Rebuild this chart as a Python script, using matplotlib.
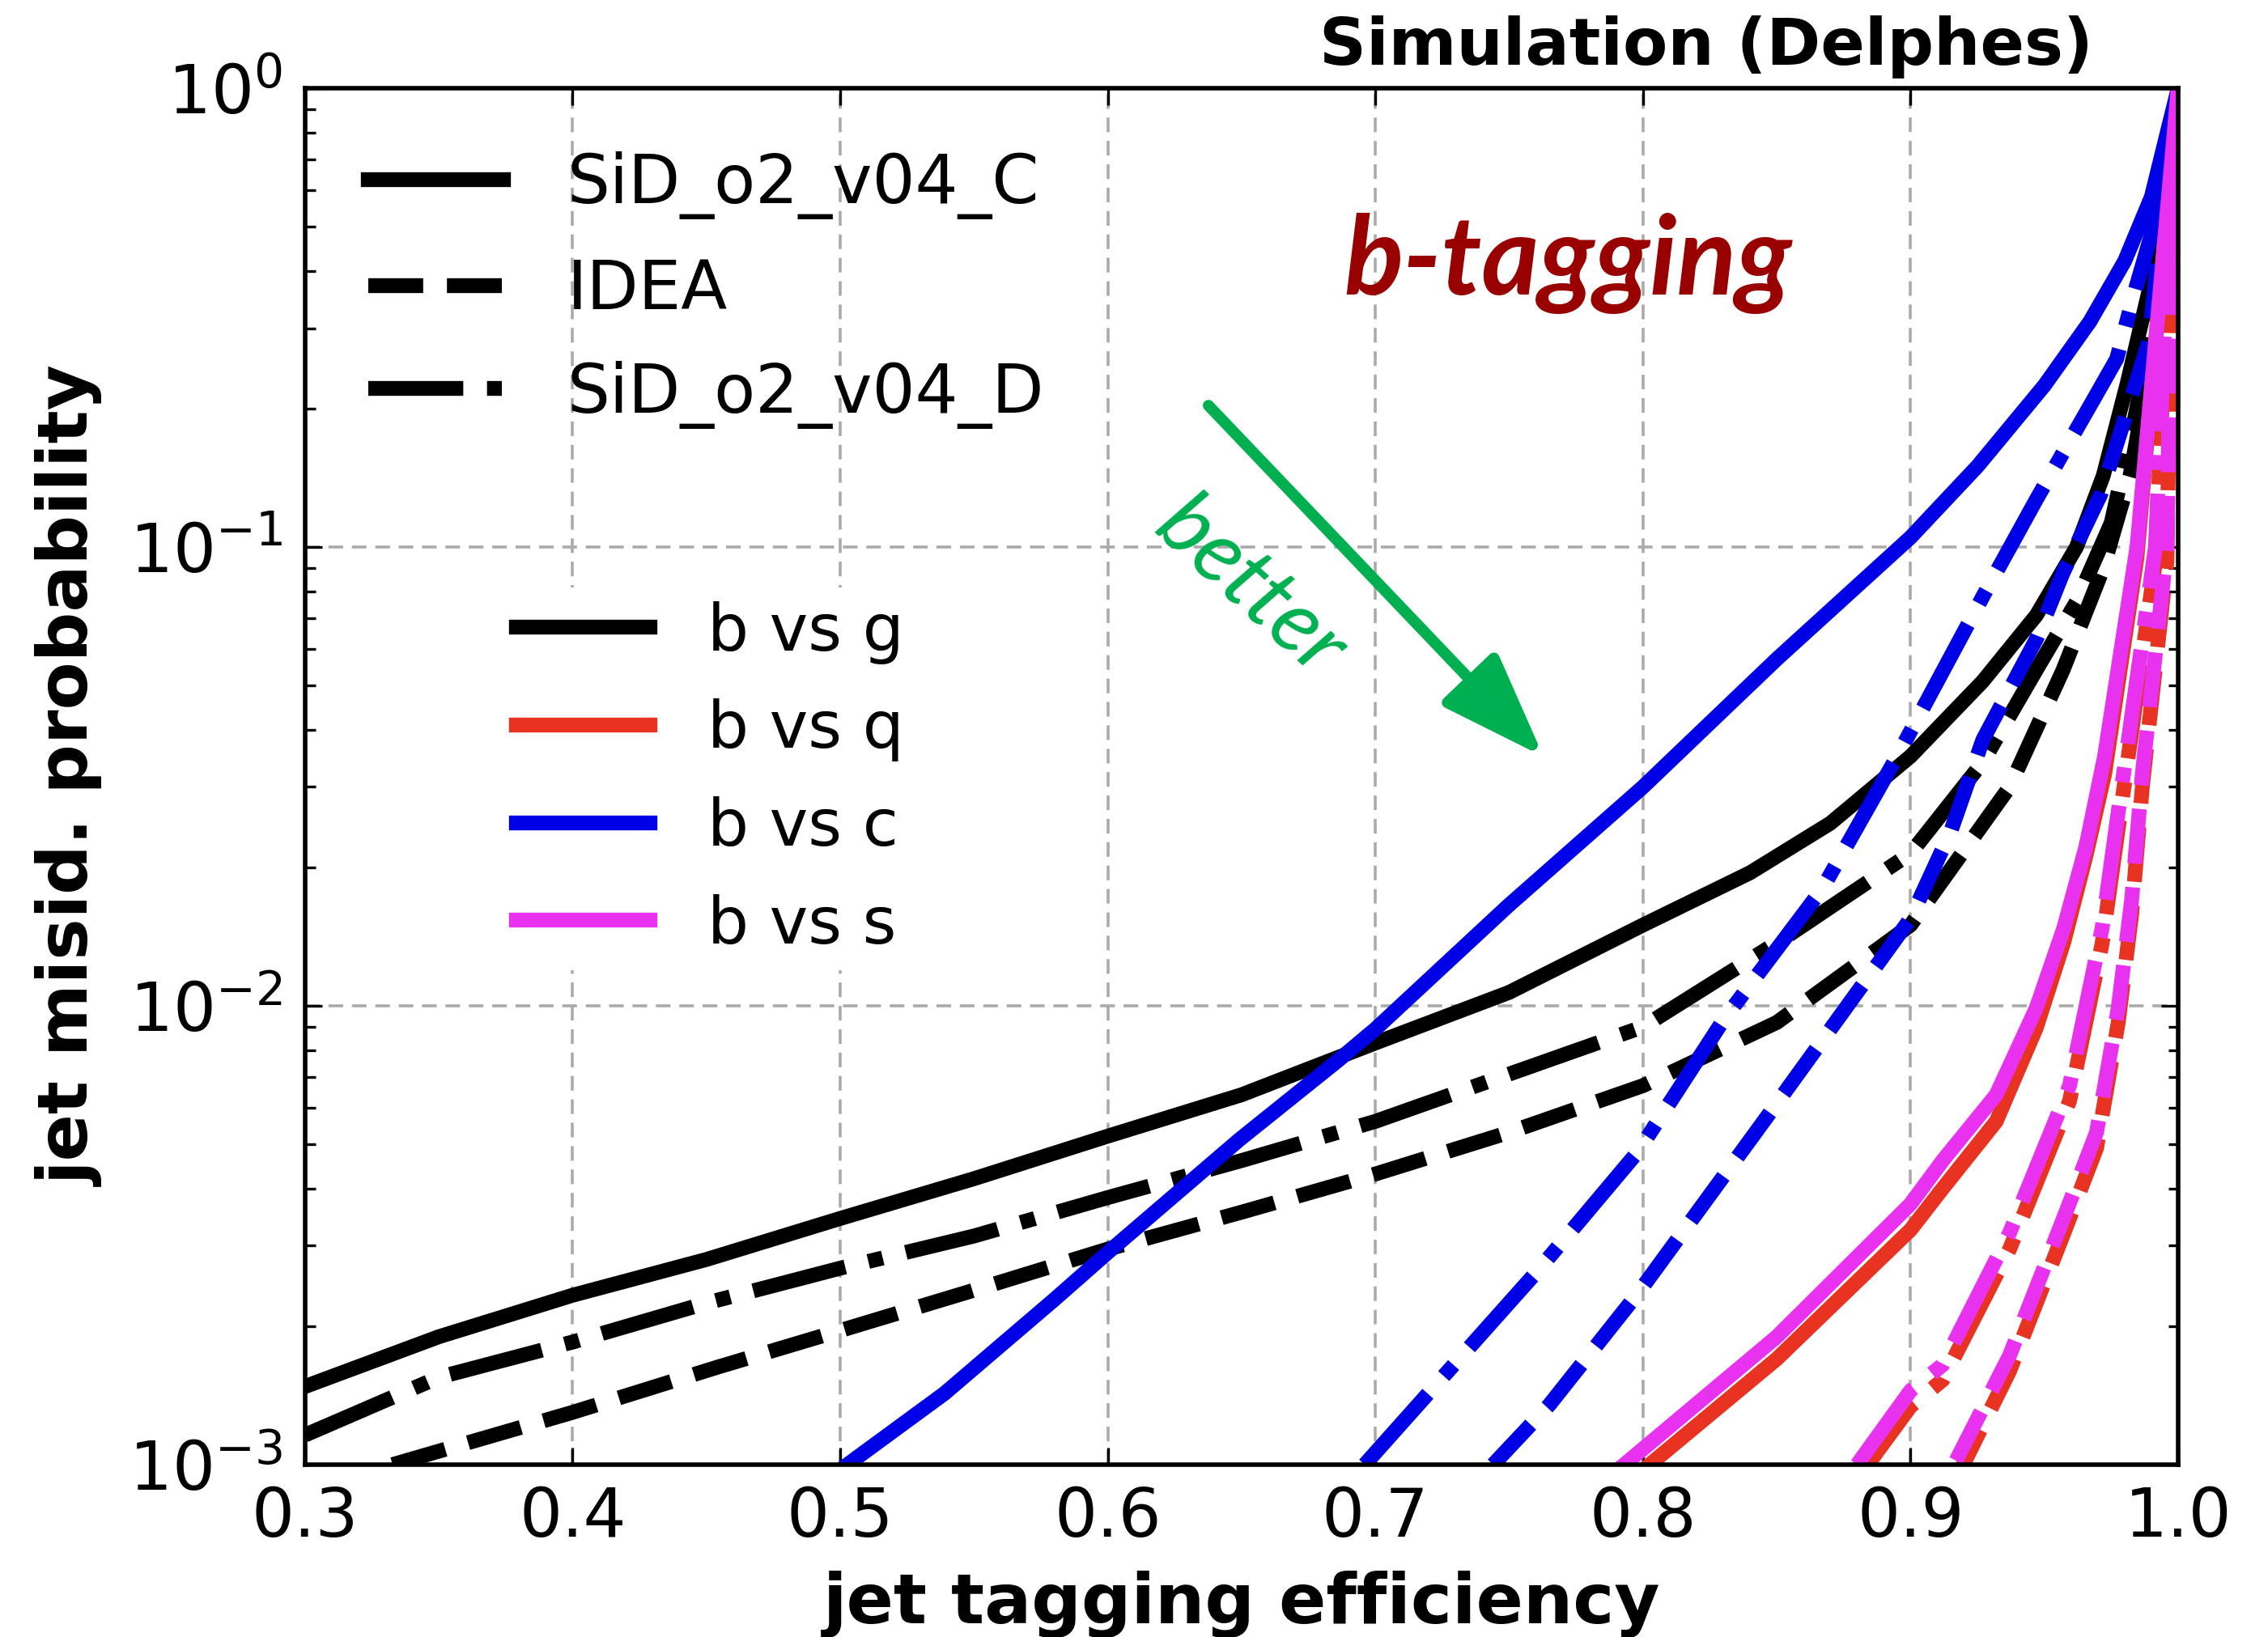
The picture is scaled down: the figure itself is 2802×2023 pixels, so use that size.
import matplotlib.pyplot as plt
from matplotlib.lines import Line2D

# ROC curves: b-jet efficiency vs. misid probability of the background flavour
# b vs g
g_C_eff = [0.30, 0.35, 0.40, 0.45, 0.50, 0.55, 0.60, 0.65, 0.70, 0.75, 0.80, 0.84, 0.87, 0.90,
           0.927, 0.947, 0.962, 0.972, 0.981, 0.989, 0.9935, 1.0]
g_C_mis = [1.48e-3, 1.9e-3, 2.34e-3, 2.8e-3, 3.44e-3, 4.2e-3, 5.2e-3, 6.4e-3, 8.3e-3, 1.07e-2, 1.5e-2,
           1.95e-2, 2.5e-2, 3.5e-2, 5.1e-2, 7.1e-2, 0.10, 0.143, 0.228, 0.36, 0.49, 1.0]
g_I_eff = [0.3327, 0.40, 0.454, 0.50, 0.55, 0.60, 0.65, 0.70, 0.75, 0.80, 0.85, 0.90, 0.937, 0.957,
           0.972, 0.982, 0.9886, 0.9935, 1.0]
g_I_mis = [1.0e-3, 1.30e-3, 1.63e-3, 1.96e-3, 2.4e-3, 2.95e-3, 3.55e-3, 4.3e-3, 5.3e-3, 6.7e-3, 9.2e-3,
           1.5e-2, 3.0e-2, 5.4e-2, 9.0e-2, 0.143, 0.233, 0.41, 1.0]
g_D_eff = [0.30, 0.35, 0.40, 0.45, 0.50, 0.55, 0.60, 0.65, 0.70, 0.75, 0.80, 0.854, 0.90,
           0.927, 0.947, 0.962, 0.975, 0.984, 0.991, 1.0]
g_D_mis = [1.16e-3, 1.55e-3, 1.85e-3, 2.25e-3, 2.68e-3, 3.15e-3, 3.82e-3, 4.6e-3, 5.6e-3, 7.1e-3,
           9.0e-3, 1.42e-2, 2.15e-2, 3.4e-2, 5.4e-2, 7.6e-2, 0.113, 0.194, 0.32, 1.0]

# b vs q
q_C_eff = [0.8025, 0.85, 0.90, 0.912, 0.932, 0.947, 0.9573, 0.9655, 0.9725, 0.9846, 0.992, 1.0]
q_C_mis = [1.0e-3, 1.7e-3, 3.25e-3, 4.0e-3, 5.6e-3, 8.96e-3, 1.38e-2, 2.12e-2, 3.2e-2, 0.095, 0.3, 1.0]
q_I_eff = [0.917, 0.937, 0.9573, 0.9695, 0.9776, 0.9826, 0.9866, 0.9958, 0.997, 1.0]
q_I_mis = [0.93e-3, 1.6e-3, 3.2e-3, 4.9e-3, 9.2e-3, 1.58e-2, 3.0e-2, 0.093, 0.28, 1.0]
q_D_eff = [0.880, 0.90, 0.912, 0.937, 0.9594, 0.9716, 0.977, 0.9915, 0.995, 1.0]
q_D_mis = [0.93e-3, 1.34e-3, 1.53e-3, 2.95e-3, 6.2e-3, 1.37e-2, 2.3e-2, 0.093, 0.28, 1.0]

# b vs c
c_C_eff = [0.5027, 0.539, 0.58, 0.60, 0.649, 0.686, 0.70, 0.7495, 0.80, 0.85, 0.90, 0.925, 0.95,
           0.967, 0.98, 0.99, 1.0]
c_C_mis = [1.0e-3, 1.43e-3, 2.29e-3, 2.9e-3, 5.1e-3, 7.6e-3, 8.9e-3, 1.65e-2, 3.0e-2, 5.7e-2, 0.105,
           0.15, 0.225, 0.31, 0.42, 0.58, 1.0]
c_I_eff = [0.744, 0.765, 0.799, 0.847, 0.90, 0.915, 0.927, 0.947, 0.957, 0.971, 0.98, 0.989, 0.9925, 1.0]
c_I_mis = [1.0e-3, 1.35e-3, 2.4e-3, 5.8e-3, 1.55e-2, 2.4e-2, 3.8e-2, 6.3e-2, 8.8e-2, 0.13, 0.19, 0.28,
           0.43, 1.0]
c_D_eff = [0.696, 0.761, 0.798, 0.830, 0.867, 0.895, 0.927, 0.947, 0.967, 0.977, 0.984, 0.9925, 1.0]
c_D_mis = [1.0e-3, 2.66e-3, 4.8e-3, 9.3e-3, 1.8e-2, 3.5e-2, 7.8e-2, 0.127, 0.203, 0.257, 0.364, 0.54, 1.0]

# b vs s
s_C_eff = [0.793, 0.85, 0.90, 0.912, 0.932, 0.947, 0.9573, 0.9655, 0.9725, 0.9846, 0.992, 1.0]
s_C_mis = [1.0e-3, 1.9e-3, 3.7e-3, 4.6e-3, 6.4e-3, 9.9e-3, 1.48e-2, 2.22e-2, 3.5e-2, 0.1, 0.3, 1.0]
s_I_eff = [0.917, 0.937, 0.9573, 0.9695, 0.9776, 0.9826, 0.9866, 0.9958, 0.997, 1.0]
s_I_mis = [1.02e-3, 1.73e-3, 3.46e-3, 5.3e-3, 9.9e-3, 1.7e-2, 3.2e-2, 0.1, 0.3, 1.0]
s_D_eff = [0.880, 0.90, 0.912, 0.937, 0.9594, 0.9716, 0.977, 0.9915, 0.995, 1.0]
s_D_mis = [1.0e-3, 1.45e-3, 1.65e-3, 3.2e-3, 6.7e-3, 1.48e-2, 2.5e-2, 0.1, 0.3, 1.0]

detectors = ["SiD_o2_v04_C", "IDEA", "SiD_o2_v04_D"]
styles = ["-", "--", "-."]
flavours = ["b vs g", "b vs q", "b vs c", "b vs s"]
colors = ["black", "#e83323", "#0000e6", "#e832f0"]

curves = [
    [(g_C_eff, g_C_mis), (g_I_eff, g_I_mis), (g_D_eff, g_D_mis)],
    [(q_C_eff, q_C_mis), (q_I_eff, q_I_mis), (q_D_eff, q_D_mis)],
    [(c_C_eff, c_C_mis), (c_I_eff, c_I_mis), (c_D_eff, c_D_mis)],
    [(s_C_eff, s_C_mis), (s_I_eff, s_I_mis), (s_D_eff, s_D_mis)],
]

LW = 6.6

fig = plt.figure(figsize=(14.01, 10.115), dpi=200)
ax = fig.add_axes([0.1345, 0.1053, 0.8259, 0.8408])

for col, sets in zip(colors, curves):
    for ls, (eff, mis) in zip(styles, sets):
        ax.plot(eff, mis, color=col, ls=ls, lw=LW)

ax.set_yscale("log")
ax.set_xlim(0.3, 1.0)
ax.set_ylim(1e-3, 1.0)
ax.set_xticks([0.3, 0.4, 0.5, 0.6, 0.7, 0.8, 0.9, 1.0])

ax.grid(True, which="major", color="#aaaaaa", lw=1.3, dashes=(5, 3))
ax.tick_params(which="both", direction="in", top=True, right=True, width=1.2)
ax.tick_params(which="major", length=7.5, labelsize=30, pad=10)
ax.tick_params(which="minor", length=4.5)
ax.tick_params(axis="x", pad=9)
for sp in ax.spines.values():
    sp.set_linewidth(2)

ax.set_xlabel("jet tagging efficiency", fontsize=31, fontweight="bold")
ax.set_ylabel("jet misid. probability", fontsize=31, fontweight="bold")
ax.xaxis.set_label_coords(0.5, -0.077)
ax.yaxis.set_label_coords(-0.107, 0.5)

ax.text(0.9546, 1.017, "Simulation (Delphes)", transform=ax.transAxes, ha="right",
        va="baseline", fontsize=29, fontweight="bold")

# detector legend (line styles)
det_handles = [Line2D([], [], color="black", ls=ls, lw=LW) for ls in styles]
leg1 = ax.legend(det_handles, detectors, loc="upper left", bbox_to_anchor=(0.0337, 0.954),
                 frameon=False, fontsize=30, handlelength=2.0, handletextpad=0.95,
                 labelspacing=0.56, borderpad=0, borderaxespad=0)
ax.add_artist(leg1)

# flavour legend (colours)
fl_handles = [Line2D([], [], color=c, ls="-", lw=LW) for c in colors]
leg2 = ax.legend(fl_handles, flavours, loc="upper left", bbox_to_anchor=(0.1059, 0.637),
                 frameon=True, fancybox=False, framealpha=1, facecolor="white", edgecolor="none",
                 fontsize=29, handlelength=2.05, handletextpad=0.88, labelspacing=0.53,
                 borderpad=0.2, borderaxespad=0)

ax.text(0.5545, 0.850, "b-tagging", transform=ax.transAxes, ha="left", va="baseline",
        fontsize=49, fontweight="bold", style="italic", family="Lato", color="#990000")

ax.annotate("", xy=(0.6612, 0.5143), xytext=(0.4823, 0.7695), xycoords="axes fraction",
            arrowprops=dict(arrowstyle="-|>,head_length=1.8,head_width=0.65", lw=5,
                            color="#00b050", mutation_scale=22, shrinkA=0, shrinkB=0))
ax.text(0.5048, 0.637, "better", transform=ax.transAxes, ha="center", va="center",
        rotation=-42, rotation_mode="anchor", fontsize=39, style="italic", family="Lato",
        color="#00b050")

fig.savefig("out.png", dpi=200)
